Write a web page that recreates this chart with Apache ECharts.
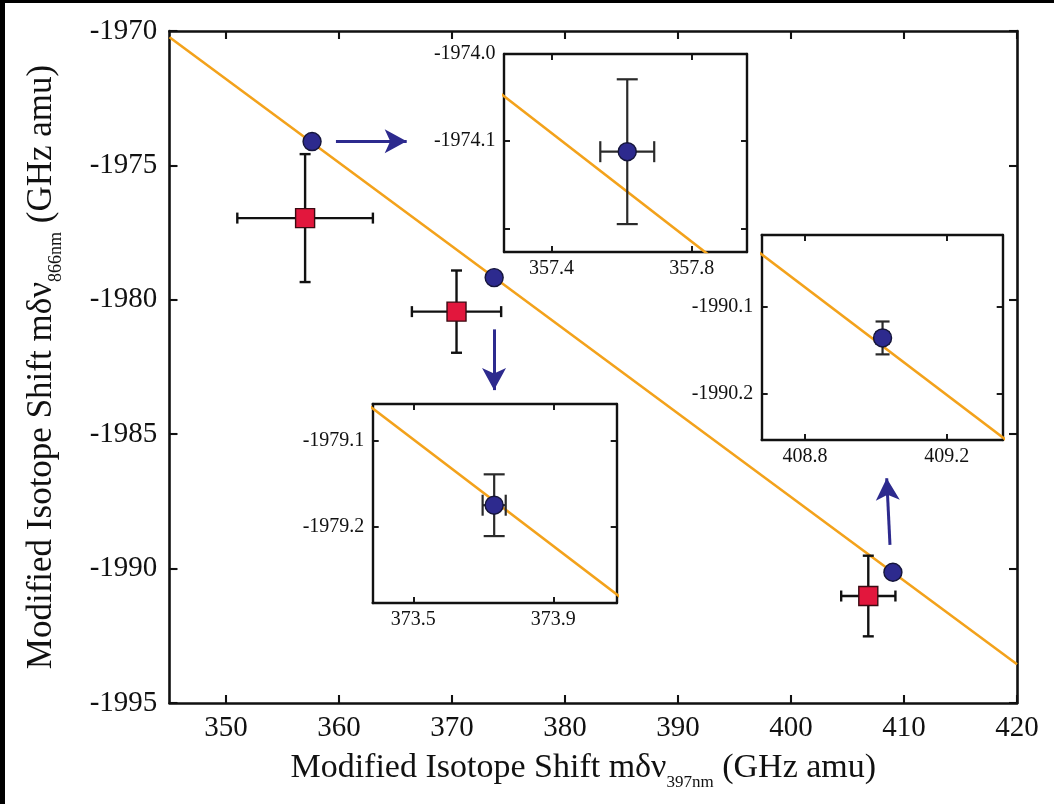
<!DOCTYPE html>
<html>
<head>
<meta charset="utf-8">
<script src="https://cdn.jsdelivr.net/npm/echarts@6/dist/echarts.min.js"></script>
<style>
html,body{margin:0;padding:0;background:#000;}
#chart{width:1054px;height:804px;}
</style>
</head>
<body>
<div id="chart"></div>
<script>
// ---------- data ----------
const mainXTicks = [350, 360, 370, 380, 390, 400, 410, 420];
const mainYRange = [-1995, -1970];
const mainXRange = [345, 420];

// red squares (with error bars)
const squareX = [357.0, 370.4, 406.84];
const squareY = [-1976.96, -1980.44, -1991.02];
const squareXErr = [6.0, 3.95, 2.4];
const squareYErr = [2.38, 1.53, 1.5];

// blue circles (with error bars, visible in the insets)
const circleX = [357.616, 373.731, 409.019];
const circleY = [-1974.112, -1979.175, -1990.136];
const circleXErr = [0.077, 0.033, 0.017];
const circleYErr = [0.083, 0.036, 0.019];

// fitted line end points
const fitX = [345, 420];
const fitY = [-1970.234, -1993.561];

// insets: axis ranges and ticks
const insetXRange = [[357.264, 357.958], [373.384, 374.081], [408.678, 409.358]];
const insetYRange = [[-1974.227, -1974.0], [-1979.289, -1979.057], [-1990.254, -1990.017]];
const insetXTicks = [[357.4, 357.8], [373.5, 373.9], [408.8, 409.2]];
const insetYTicks = [[-1974.2, -1974.1, -1974.0], [-1979.2, -1979.1], [-1990.2, -1990.1]];
const insetYLabels = [[-1974.1, -1974.0], [-1979.2, -1979.1], [-1990.2, -1990.1]];

// arrows (main data coordinates): from -> tip
const arrowFrom = [[359.73, -1974.10], [373.72, -1981.10], [408.76, -1989.12]];
const arrowTo = [[365.99, -1974.10], [373.72, -1983.36], [408.47, -1986.64]];

// ---------- layout / style ----------
const FONT = 'Liberation Serif';
const INK = '#111';
const BLUE = '#2d2a8e';
const RED = '#e2173d';
const ORANGE = '#f3a21b';

const grids = [
  {left: 169.5, top: 31, width: 847.5, height: 672},
  {left: 504, top: 54, width: 243, height: 198},
  {left: 372.7, top: 404, width: 244, height: 199},
  {left: 761.7, top: 235, width: 241, height: 205}
];

const fitLine = fitX.map((x, i) => [x, fitY[i]]);

function errRenderer(cap, lw, color) {
  return function (params, api) {
    const x = api.value(0), y = api.value(1), ex = api.value(2), ey = api.value(3);
    const l = api.coord([x - ex, y]), r = api.coord([x + ex, y]);
    const t = api.coord([x, y + ey]), b = api.coord([x, y - ey]);
    const h = cap / 2;
    const style = {stroke: color, lineWidth: lw, fill: null};
    return {
      type: 'group',
      children: [
        {type: 'line', shape: {x1: l[0], y1: l[1], x2: r[0], y2: r[1]}, style},
        {type: 'line', shape: {x1: l[0], y1: l[1] - h, x2: l[0], y2: l[1] + h}, style},
        {type: 'line', shape: {x1: r[0], y1: r[1] - h, x2: r[0], y2: r[1] + h}, style},
        {type: 'line', shape: {x1: t[0], y1: t[1], x2: b[0], y2: b[1]}, style},
        {type: 'line', shape: {x1: t[0] - h, y1: t[1], x2: t[0] + h, y2: t[1]}, style},
        {type: 'line', shape: {x1: b[0] - h, y1: b[1], x2: b[0] + h, y2: b[1]}, style}
      ]
    };
  };
}

const xAxes = [], yAxes = [];
function makeX(gi, pos, range, ticks, labels, fs, tickLen, lw, fmt) {
  return {
    type: 'value', gridIndex: gi, position: pos, min: range[0], max: range[1],
    axisLine: {show: true, onZero: false, lineStyle: {color: INK, width: lw}},
    axisTick: {show: true, inside: true, length: tickLen, customValues: ticks, lineStyle: {color: INK, width: lw * 0.8}},
    axisLabel: {show: labels.length > 0, customValues: labels.length ? labels : undefined, fontFamily: FONT, fontSize: fs, color: INK, margin: fs * 0.36, formatter: fmt},
    splitLine: {show: false}
  };
}
function makeY(gi, pos, range, ticks, labels, fs, tickLen, lw, fmt) {
  return {
    type: 'value', gridIndex: gi, position: pos, min: range[0], max: range[1],
    axisLine: {show: true, onZero: false, lineStyle: {color: INK, width: lw}},
    axisTick: {show: true, inside: true, length: tickLen, customValues: ticks, lineStyle: {color: INK, width: lw * 0.8}},
    axisLabel: {show: labels.length > 0, customValues: labels.length ? labels : undefined, fontFamily: FONT, fontSize: fs, color: INK, margin: fs * 0.42, formatter: fmt},
    splitLine: {show: false}
  };
}

const mainYTicks = [];
for (let v = mainYRange[0]; v <= mainYRange[1]; v += 5) mainYTicks.push(v);
const fmtInt = v => String(Math.round(v));
const fmt1 = v => v.toFixed(1);

// bottom / left axes (indices 0..3)
xAxes.push(makeX(0, 'bottom', mainXRange, mainXTicks, mainXTicks, 29, 8, 2.6, fmtInt));
yAxes.push(makeY(0, 'left', mainYRange, mainYTicks, mainYTicks, 29, 8, 2.6, fmtInt));
for (let i = 0; i < 3; i++) {
  xAxes.push(makeX(i + 1, 'bottom', insetXRange[i], insetXTicks[i], insetXTicks[i], 20, 6, 2.4, fmt1));
  yAxes.push(makeY(i + 1, 'left', insetYRange[i], insetYTicks[i], insetYLabels[i], 20, 6, 2.4, fmt1));
}
// top / right axes (indices 4..7) - ticks only
xAxes.push(makeX(0, 'top', mainXRange, mainXTicks, [], 29, 8, 2.6));
yAxes.push(makeY(0, 'right', mainYRange, mainYTicks, [], 29, 8, 2.6));
for (let i = 0; i < 3; i++) {
  xAxes.push(makeX(i + 1, 'top', insetXRange[i], insetXTicks[i], [], 20, 6, 2.4));
  yAxes.push(makeY(i + 1, 'right', insetYRange[i], insetYTicks[i], [], 20, 6, 2.4));
}

// axis titles
const richX = {
  t: {fontFamily: FONT, fontSize: 34, color: INK, lineHeight: 36},
  s: {fontFamily: FONT, fontSize: 17, color: INK, verticalAlign: 'bottom', lineHeight: 46}
};
const richY = {
  t: {fontFamily: FONT, fontSize: 35, color: INK, lineHeight: 36},
  s: {fontFamily: FONT, fontSize: 18, color: INK, verticalAlign: 'bottom', lineHeight: 48}
};
Object.assign(xAxes[0], {
  name: '{t|Modified Isotope Shift mδν}{s|397nm}{t| (GHz amu)}',
  nameLocation: 'middle', nameGap: 42,
  nameTextStyle: {rich: richX, padding: [0, 20, 0, 0]}
});
Object.assign(yAxes[0], {
  name: '{t|Modified Isotope Shift mδν}{s|866nm}{t| (GHz amu)}',
  nameLocation: 'middle', nameGap: 104, nameRotate: 90,
  nameTextStyle: {rich: richY}
});

const series = [];
// main plot
series.push({type: 'line', xAxisIndex: 0, yAxisIndex: 0, data: fitLine, showSymbol: false, symbol: 'none', clip: true,
  lineStyle: {color: ORANGE, width: 2.6}, z: 2, silent: true});
series.push({type: 'custom', xAxisIndex: 0, yAxisIndex: 0, renderItem: errRenderer(11, 2.4, INK),
  data: squareX.map((x, i) => [x, squareY[i], squareXErr[i], squareYErr[i]]), z: 3, silent: true});
series.push({type: 'scatter', xAxisIndex: 0, yAxisIndex: 0, symbol: 'rect', symbolSize: 19,
  data: squareX.map((x, i) => [x, squareY[i]]),
  itemStyle: {color: RED, borderColor: '#3a0b12', borderWidth: 1.4, opacity: 1}, z: 4, silent: true});
series.push({type: 'scatter', xAxisIndex: 0, yAxisIndex: 0, symbol: 'circle', symbolSize: 18,
  data: circleX.map((x, i) => [x, circleY[i]]),
  itemStyle: {color: BLUE, borderColor: '#15153a', borderWidth: 1.4, opacity: 1}, z: 4, silent: true,
  markLine: {
    silent: true, animation: false,
    symbol: ['none', 'arrow'], symbolSize: 20,
    lineStyle: {color: BLUE, width: 3, type: 'solid'},
    label: {show: false},
    emphasis: {disabled: true},
    data: arrowFrom.map((f, i) => [{coord: f}, {coord: arrowTo[i], symbolSize: [18, 22]}])
  }});
// insets
for (let i = 0; i < 3; i++) {
  const ax = i + 1;
  series.push({type: 'line', xAxisIndex: ax, yAxisIndex: ax, data: fitLine, showSymbol: false, symbol: 'none', clip: true,
    lineStyle: {color: ORANGE, width: 2.6}, z: 2, silent: true});
  series.push({type: 'custom', xAxisIndex: ax, yAxisIndex: ax, renderItem: errRenderer(i === 2 ? 14 : 21, 2.2, '#2a2a2a'), clip: true,
    data: [[circleX[i], circleY[i], circleXErr[i], circleYErr[i]]], z: 3, silent: true});
  series.push({type: 'scatter', xAxisIndex: ax, yAxisIndex: ax, symbol: 'circle', symbolSize: 18,
    data: [[circleX[i], circleY[i]]],
    itemStyle: {color: BLUE, borderColor: '#15153a', borderWidth: 1.4, opacity: 1}, z: 4, silent: true});
}

const chart = echarts.init(document.getElementById('chart'), null, {renderer: 'canvas'});
chart.setOption({
  animation: false,
  backgroundColor: '#000',
  graphic: [{type: 'rect', left: 5, top: 3, shape: {width: 1049, height: 801}, style: {fill: '#fff'}, z: -100, silent: true}],
  grid: grids.map(g => Object.assign({containLabel: false, outerBoundsMode: 'none', show: true, backgroundColor: '#fff', borderWidth: 0}, g)),
  xAxis: xAxes,
  yAxis: yAxes,
  series: series
});
</script>
</body>
</html>
